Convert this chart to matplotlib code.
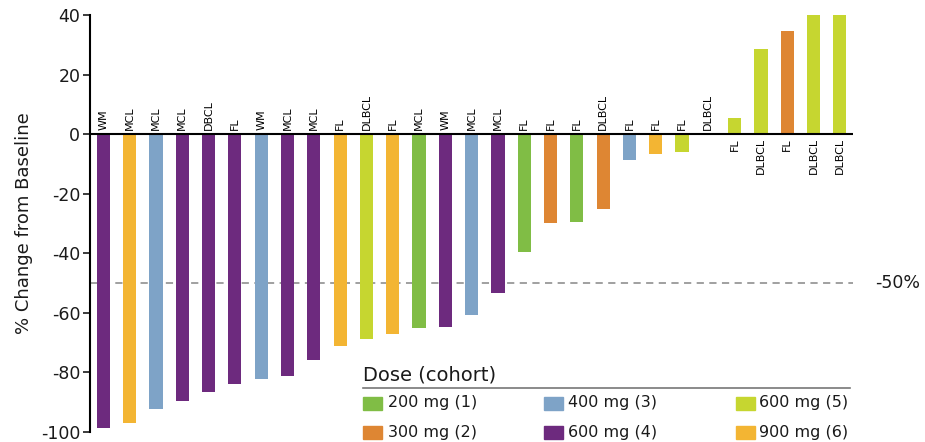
import numpy as np
import matplotlib.pyplot as plt
from matplotlib.patches import Rectangle
from matplotlib.lines import Line2D

plt.rcParams['font.family'] = ['DejaVu Sans']
plt.rcParams['axes.unicode_minus'] = False

# patient diagnosis and % change from baseline, one per bar
diagnosis = ["WM", "MCL", "MCL", "MCL", "DBCL", "FL", "WM", "MCL", "MCL", "FL",
             "DLBCL", "FL", "MCL", "WM", "MCL", "MCL", "FL", "FL", "FL", "DLBCL",
             "FL", "FL", "FL", "DLBCL", "FL", "DLBCL", "FL", "DLBCL", "DLBCL"]
change = [-98.7, -97.0, -92.3, -89.6, -86.6, -83.9, -82.2, -81.2, -75.8, -71.1,
          -68.8, -67.1, -65.1, -64.8, -60.7, -53.4, -39.6, -29.9, -29.5, -25.2,
          -8.7, -6.7, -6.0, 0.0, 5.4, 28.5, 34.6, 40.0, 40.0]
cohort = [4, 6, 3, 4, 4, 4, 3, 4, 4, 6,
          5, 6, 1, 4, 3, 4, 1, 2, 1, 2,
          3, 6, 5, 5, 5, 5, 2, 5, 5]

dose_labels = ["200 mg (1)", "300 mg (2)", "400 mg (3)",
               "600 mg (4)", "600 mg (5)", "900 mg (6)"]
dose_colors = ["#80BD45", "#DE8633", "#7EA3C7", "#6D2A7E", "#C6D630", "#F3B533"]

W, H = 925, 442
fig = plt.figure(figsize=(W / 100, H / 100), dpi=100)
ax = fig.add_axes([90 / W, 1 - 432 / H, (853 - 90) / W, (432 - 15) / H])

x = np.arange(len(change))
bar_colors = [dose_colors[c - 1] for c in cohort]
ax.bar(x, change, width=0.5, color=bar_colors, zorder=2)

for xi, v, name in zip(x, change, diagnosis):
    if v > 0:
        ax.text(xi, -1.3, name, rotation=90, ha='center', va='top', fontsize=8)
    else:
        ax.text(xi, 1.3, name, rotation=90, ha='center', va='bottom', fontsize=8)

ax.axhline(0, color='black', lw=1.5, zorder=3)
ax.axhline(-50, color='#999999', lw=1.3, linestyle=(0, (4, 3)), zorder=1)
ax.text(1.029, -50, "-50%", transform=ax.get_yaxis_transform(),
        ha='left', va='center', fontsize=12.5, color='#1a1a1a')

ax.set_xlim(-0.51, 28.5)
ax.set_ylim(-100, 40)
ax.set_yticks(np.arange(-100, 41, 20))
ax.set_xticks([])
ax.tick_params(axis='y', direction='out', length=5, width=1.2, labelsize=12.5,
               colors='#1a1a1a', pad=2)
for s in ['top', 'right', 'bottom']:
    ax.spines[s].set_visible(False)
ax.spines['left'].set_linewidth(1.5)
ax.set_ylabel("% Change from Baseline", fontsize=13, color='#1a1a1a', labelpad=6)

# legend drawn by hand: title, rule and 3 columns of swatches
def fx(px):
    return px / W

def fy(py):
    return 1 - py / H

fig.text(fx(363), fy(375), "Dose (cohort)", ha='left', va='center',
         fontsize=14, color='#1a1a1a')
fig.add_artist(Line2D([fx(363), fx(850)], [fy(388), fy(388)],
                      color='#777777', lw=1.2, transform=fig.transFigure))
col_patch = [363, 544, 736]
col_text = [388, 568, 759]
row_y = [403, 432]
for i, (lab, col) in enumerate(zip(dose_labels, dose_colors)):
    c, r = i // 2, i % 2
    fig.add_artist(Rectangle((fx(col_patch[c]), fy(row_y[r] + 6.5)), 19 / W, 13 / H,
                             color=col, transform=fig.transFigure))
    fig.text(fx(col_text[c]), fy(row_y[r]), lab, ha='left', va='center',
             fontsize=11.5, color='#1a1a1a')

fig.savefig("out.png", dpi=100)
